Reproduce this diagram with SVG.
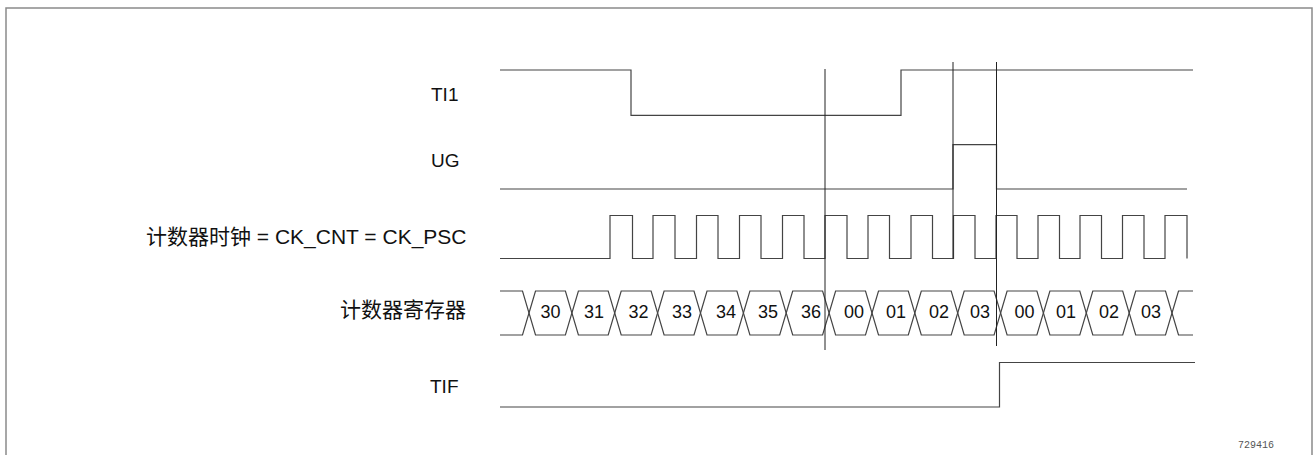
<svg xmlns="http://www.w3.org/2000/svg" width="1316" height="455" viewBox="0 0 1316 455">
<style>
.sig{fill:none;stroke:#444;stroke-width:1.2;stroke-linejoin:miter}
.mark{fill:none;stroke:#222;stroke-width:1}
.lbl{font-family:"Liberation Sans","Noto Sans CJK SC",Arial,sans-serif;fill:#111}
.name{font-size:19px}
.cn{font-size:21px;text-anchor:end}
.val{font-family:"Liberation Sans",Arial,sans-serif;font-size:18px;fill:#111;text-anchor:middle}
.tag{font-family:"Liberation Mono","Courier New",monospace;font-size:10px;fill:#555}
</style>
<rect x="0" y="0" width="1316" height="455" fill="#fff"/>
<rect x="6" y="8" width="1306" height="470" fill="none" stroke="#8a8a8a" stroke-width="1.5"/>

<g id="ti1">
<text class="lbl name" x="431" y="101">TI1</text>
<path class="sig" d="M500,70 L631,70 L631,115.3 L901,115.3 L901,70 L1193,70"/>
</g>

<g id="ug">
<text class="lbl name" x="431" y="166.5">UG</text>
<path class="sig" d="M500,189 L953,189 L953,144.7 L996.5,144.7 L996.5,189 L1187,189"/>
</g>

<g id="clock">
<text class="lbl cn" x="466.5" y="243.5">计数器时钟 = CK_CNT = CK_PSC</text>
<path class="sig" d="M500,258.5 L610,258.5 L610,215.5 L632.5,215.5 L632.5,258.5 L653,258.5 L653,215.5 L675,215.5 L675,258.5 L696.5,258.5 L696.5,215.5 L718,215.5 L718,258.5 L739.5,258.5 L739.5,215.5 L761,215.5 L761,258.5 L782.5,258.5 L782.5,215.5 L804,215.5 L804,258.5 L825,258.5 L825,215.5 L847,215.5 L847,258.5 L868,258.5 L868,215.5 L889.5,215.5 L889.5,258.5 L911,258.5 L911,215.5 L932.5,215.5 L932.5,258.5 L953.5,258.5 L953.5,215.5 L975,215.5 L975,258.5 L996,258.5 L996,215.5 L1017,215.5 L1017,258.5 L1038,258.5 L1038,215.5 L1059.5,215.5 L1059.5,258.5 L1080,258.5 L1080,215.5 L1101.5,215.5 L1101.5,258.5 L1122.5,258.5 L1122.5,215.5 L1144,215.5 L1144,258.5 L1165,258.5 L1165,215.5 L1187,215.5 L1187,258.5"/>
</g>

<g id="counter">
<text class="lbl cn" x="466" y="317">计数器寄存器</text>
<path class="sig" d="M500,291 L522.5,291 L529,313 L522.5,335 L500,335"/>
<path class="sig" d="M529,313 L535.5,291 L565.4,291 L571.9,313 L565.4,335 L535.5,335 Z"/>
<path class="sig" d="M571.9,313 L578.4,291 L608.2,291 L614.7,313 L608.2,335 L578.4,335 Z"/>
<path class="sig" d="M614.7,313 L621.2,291 L651.1,291 L657.6,313 L651.1,335 L621.2,335 Z"/>
<path class="sig" d="M657.6,313 L664.1,291 L694,291 L700.5,313 L694,335 L664.1,335 Z"/>
<path class="sig" d="M700.5,313 L707,291 L736.9,291 L743.4,313 L736.9,335 L707,335 Z"/>
<path class="sig" d="M743.4,313 L749.9,291 L779.7,291 L786.2,313 L779.7,335 L749.9,335 Z"/>
<path class="sig" d="M786.2,313 L792.7,291 L822.6,291 L829.1,313 L822.6,335 L792.7,335 Z"/>
<path class="sig" d="M829.1,313 L835.6,291 L865.5,291 L872,313 L865.5,335 L835.6,335 Z"/>
<path class="sig" d="M872,313 L878.5,291 L908.3,291 L914.8,313 L908.3,335 L878.5,335 Z"/>
<path class="sig" d="M914.8,313 L921.3,291 L951.2,291 L957.7,313 L951.2,335 L921.3,335 Z"/>
<path class="sig" d="M957.7,313 L964.2,291 L994.1,291 L1000.6,313 L994.1,335 L964.2,335 Z"/>
<path class="sig" d="M1000.6,313 L1007.1,291 L1036.9,291 L1043.4,313 L1036.9,335 L1007.1,335 Z"/>
<path class="sig" d="M1043.4,313 L1049.9,291 L1079.8,291 L1086.3,313 L1079.8,335 L1049.9,335 Z"/>
<path class="sig" d="M1086.3,313 L1092.8,291 L1122.7,291 L1129.2,313 L1122.7,335 L1092.8,335 Z"/>
<path class="sig" d="M1129.2,313 L1135.7,291 L1165.5,291 L1172,313 L1165.5,335 L1135.7,335 Z"/>
<path class="sig" d="M1193,291 L1178.5,291 L1172,313 L1178.5,335 L1193,335"/>
<text class="val" x="550.5" y="318">30</text>
<text class="val" x="594" y="318">31</text>
<text class="val" x="638.5" y="318">32</text>
<text class="val" x="682" y="318">33</text>
<text class="val" x="726" y="318">34</text>
<text class="val" x="768" y="318">35</text>
<text class="val" x="811" y="318">36</text>
<text class="val" x="854" y="318">00</text>
<text class="val" x="896" y="318">01</text>
<text class="val" x="939" y="318">02</text>
<text class="val" x="980" y="318">03</text>
<text class="val" x="1024.5" y="318">00</text>
<text class="val" x="1066" y="318">01</text>
<text class="val" x="1109" y="318">02</text>
<text class="val" x="1151" y="318">03</text>
</g>

<g id="tif">
<text class="lbl name" x="430" y="393">TIF</text>
<path class="sig" d="M500,407 L999.5,407 L999.5,362.5 L1195,362.5"/>
</g>

<g id="connectors">
<line class="mark" x1="825" y1="69" x2="825" y2="350"/>
<line class="mark" x1="953" y1="62" x2="953" y2="258.5"/>
<line class="mark" x1="996.5" y1="62" x2="996.5" y2="346"/>
</g>

<text class="tag" x="1238" y="448">729416</text>
</svg>
